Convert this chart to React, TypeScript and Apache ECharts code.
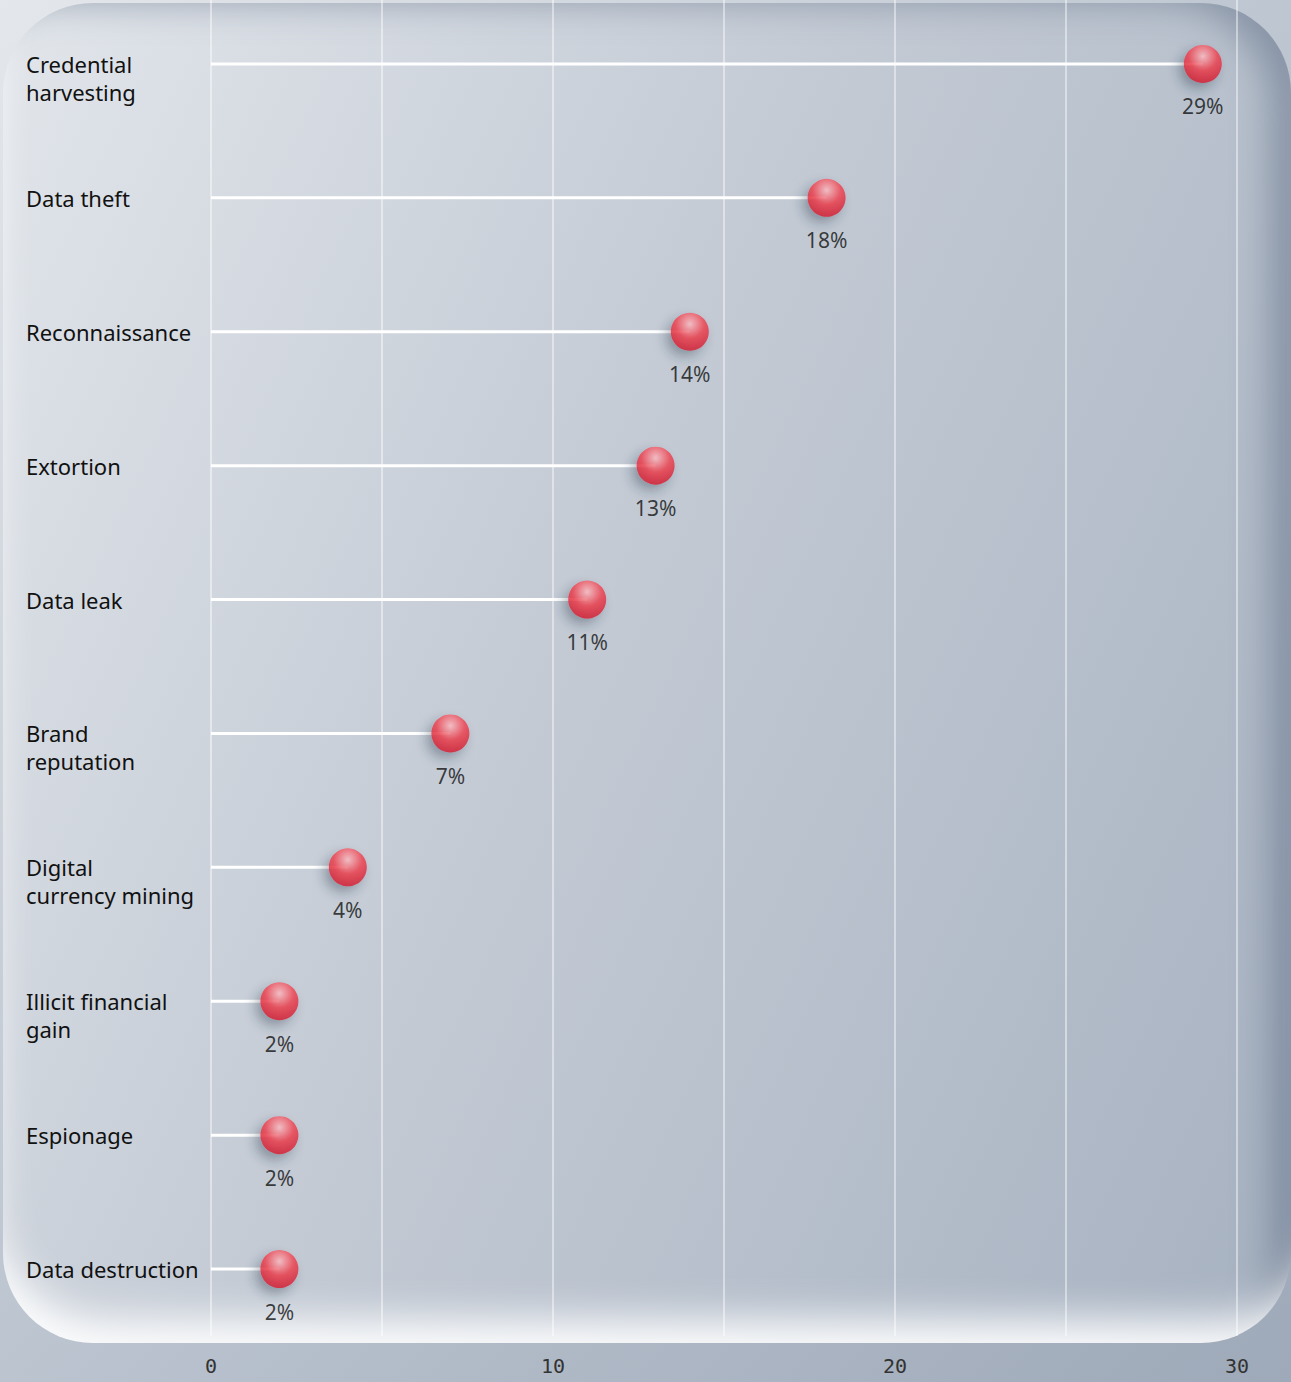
import React, { useEffect, useRef } from "react";
import * as echarts from "echarts";

const categories = [
  "Credential harvesting",
  "Data theft",
  "Reconnaissance",
  "Extortion",
  "Data leak",
  "Brand reputation",
  "Digital currency mining",
  "Illicit financial gain",
  "Espionage",
  "Data destruction",
];
const categoryLabels = [
  "\nCredential\nharvesting",
  "Data theft",
  "Reconnaissance",
  "Extortion",
  "Data leak",
  "\nBrand\nreputation",
  "\nDigital\ncurrency mining",
  "\nIllicit financial\ngain",
  "Espionage",
  "Data destruction",
];
const values = [29, 18, 14, 13, 11, 7, 4, 2, 2, 2];
const xTicks = [0, 10, 20, 30];

export default function App() {
  const ref = useRef<HTMLDivElement>(null);
  useEffect(() => {
    if (!ref.current) return;
    const chart = echarts.init(ref.current, null, { renderer: "svg" });
    const labelMap: Record<string, string> = {};
    categories.forEach((c, i) => (labelMap[c] = categoryLabels[i]));
    chart.setOption({
      animation: false,
      backgroundColor: "transparent",
      grid: { left: 211, right: 54, top: 0, bottom: 46, containLabel: false, outerBoundsMode: "none" },
      xAxis: {
        type: "value",
        min: 0,
        max: 30,
        interval: 5,
        axisLine: { show: false },
        axisTick: { show: false },
        splitLine: { show: true, lineStyle: { color: "rgba(255,255,255,0.6)", width: 1.5 } },
        axisLabel: {
          margin: 20,
          fontFamily: "DejaVu Sans Mono",
          fontSize: 20,
          color: "#333",
          formatter: (v: number) => (xTicks.includes(v) ? String(v) : ""),
        },
      },
      yAxis: {
        type: "category",
        data: categories,
        inverse: true,
        axisLine: { show: false },
        axisTick: { show: false },
        splitLine: { show: false },
        axisLabel: {
          align: "left",
          margin: 185,
          fontFamily: "Noto Sans",
          fontSize: 22,
          lineHeight: 28,
          color: "#111",
          formatter: (v: string) => labelMap[v] ?? v,
        },
      },
      series: [
        {
          type: "bar",
          data: values,
          barWidth: 3,
          itemStyle: { color: "#ffffff" },
          silent: true,
          z: 2,
        },
        {
          type: "scatter",
          data: values.map((v, i) => [v, categories[i]]),
          symbol: "circle",
          symbolSize: 38,
          z: 3,
          itemStyle: {
            color: {
              type: "radial",
              x: 0.5,
              y: 0.3,
              r: 0.75,
              colorStops: [
                { offset: 0, color: "#ffc0c6" },
                { offset: 0.5, color: "#f0404d" },
                { offset: 1, color: "#d0142a" },
              ],
            },
            shadowBlur: 12,
            shadowOffsetX: -5,
            shadowOffsetY: 6,
            shadowColor: "rgba(40,50,70,0.45)",
          },
          label: {
            show: true,
            position: "bottom",
            distance: 13,
            fontFamily: "Noto Sans",
            fontSize: 21,
            color: "#111",
            formatter: (p: any) => p.value[0] + "%",
          },
        },
      ],
    });
    return () => chart.dispose();
  }, []);

  return (
    <div
      style={{
        position: "absolute",
        left: 0,
        top: 0,
        width: 1291,
        height: 1382,
        background: "linear-gradient(135deg, #e4e7eb 0%, #bcc5d0 50%, #9ea9b9 100%)",
        overflow: "hidden",
      }}
    >
      <div
        style={{
          position: "absolute",
          left: 3,
          top: 3,
          width: 1288,
          height: 1340,
          borderRadius: 90,
          background: "linear-gradient(115deg, #e2e6eb 0%, #c3cad4 45%, #a7b2c1 100%)",
          boxShadow:
            "inset 12px -45px 40px -22px rgba(255,255,255,0.95), inset -35px 14px 35px -14px rgba(90,105,130,0.5)",
        }}
      />
      <div ref={ref} style={{ position: "absolute", left: 0, top: -3, width: 1291, height: 1385 }} />
    </div>
  );
}
